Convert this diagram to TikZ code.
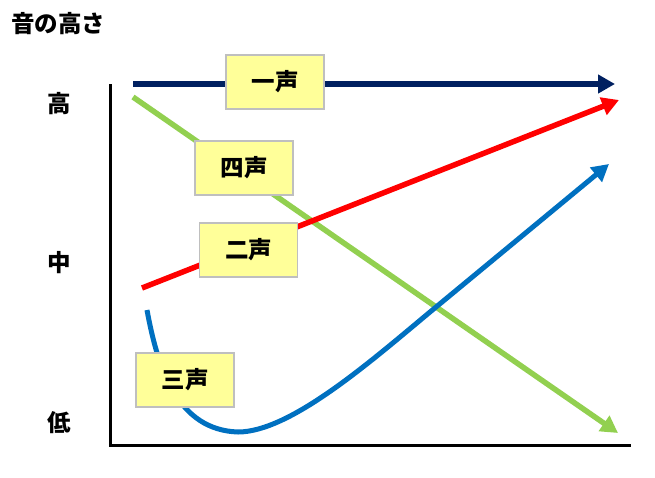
\documentclass[tikz,border=0pt]{standalone}
\usepackage{fontspec}
\newfontfamily\jpfont{Noto Sans CJK JP}
\usetikzlibrary{arrows.meta}
\definecolor{tonenavy}{HTML}{002060}
\definecolor{tonered}{HTML}{FF0000}
\definecolor{tonegreen}{HTML}{92D050}
\definecolor{toneblue}{HTML}{0070C0}
\definecolor{boxyellow}{HTML}{FFFF99}
\definecolor{boxgray}{HTML}{BFBFBF}
\tikzset{
    tone/.style={line width=5.5pt, -{Triangle[length=17pt,width=18pt]}},
    axis/.style={draw=black, line width=3pt},
    tonebox/.style={draw=boxgray, line width=1.5pt, fill=boxyellow,
        minimum width=98pt, minimum height=54pt, inner sep=0pt,
        font=\jpfont\bfseries\fontsize{23.5}{28}\selectfont},
    level/.style={font=\jpfont\bfseries\fontsize{23.5}{28}\selectfont},
}

\begin{document}
\begin{tikzpicture}[x=1pt, y=-1pt]
	\useasboundingbox (0,0) rectangle (655,477);
	% axes
	\coordinate (top) at (110,84);
	\coordinate (right) at (631,445);
	\draw[axis] (top) |- (right);
		\node[level] (title) at (58,24) {音の高さ};
		\node[level] (high) at (59,104) {高};
		\node[level] (mid) at (59,263) {中};
		\node[level] (low) at (59,423) {低};
	% tone contours
	\coordinate (s4) at (133,97);   \coordinate (e4) at (618,433);
	\coordinate (s2) at (142,288);  \coordinate (e2) at (619,100);
	\coordinate (s3) at (147,310);  \coordinate (m3) at (238,432);
	\coordinate (k3) at (430,312);  \coordinate (e3) at (609,164);
	\coordinate (s1) at (133,84);   \coordinate (e1) at (615,84);
	\draw[tone, tonegreen] (s4) -- (e4);
	\draw[tone, tonered] (s2) -- (e2);
	\draw[tone, toneblue, line width=5pt] (s3) .. controls (158,370) and (178,430) .. (m3)
		.. controls (290,432) and (370,362) .. (k3) -- (e3);
	\draw[tone, tonenavy] (s1) -- (e1);
	% labels
	\node[tonebox] (t1) at (275,82) {一声};
	\node[tonebox] (t4) at (244,168) {四声};
	\node[tonebox] (t2) at (248.5,250) {二声};
	\node[tonebox] (t3) at (185,380) {三声};
\end{tikzpicture}
\end{document}
